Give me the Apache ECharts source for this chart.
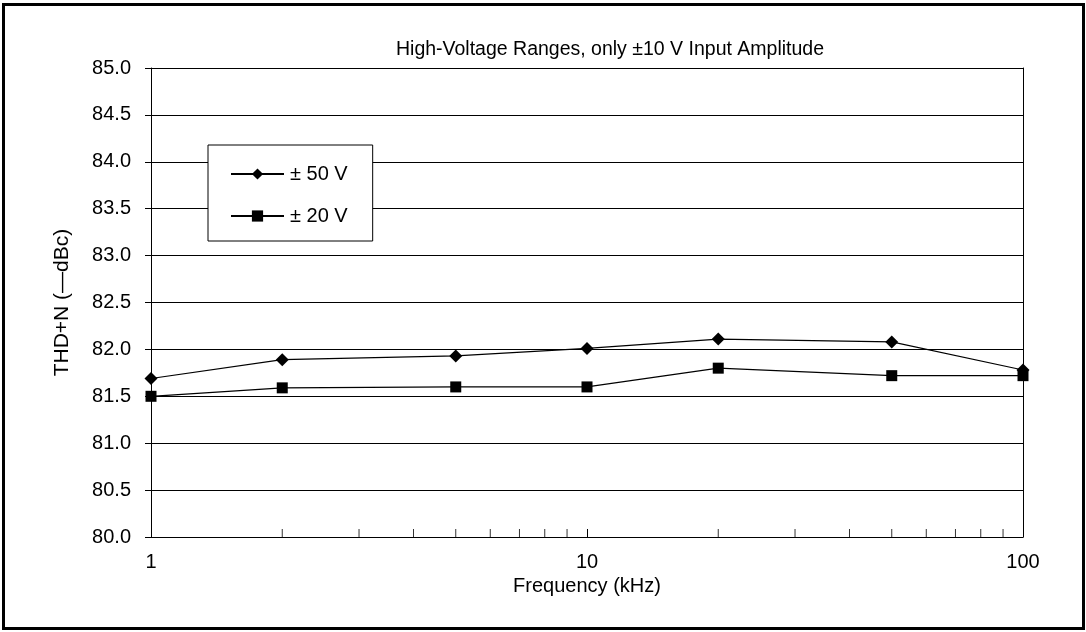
<!DOCTYPE html>
<html>
<head>
<meta charset="utf-8">
<script src="https://cdn.jsdelivr.net/npm/echarts@6/dist/echarts.min.js"></script>
<style>
html,body{margin:0;padding:0;background:#fff;}
#c{width:1086px;height:632px;}
</style>
</head>
<body>
<div id="c"></div>
<script>
var frequencies = [1, 2, 5, 10, 20, 50, 100];
var v50 = [81.69, 81.89, 81.93, 82.01, 82.11, 82.08, 81.78];
var v20 = [81.50, 81.59, 81.60, 81.60, 81.80, 81.72, 81.72];
var minorTickValues = [2, 3, 4, 5, 6, 7, 8, 9, 20, 30, 40, 50, 60, 70, 80, 90];
var seriesNames = ['± 50 V', '± 20 V'];
var titleText = 'High-Voltage Ranges, only ±10 V Input Amplitude';
var yName = 'THD+N (\u2014dBc)';
var xName = 'Frequency (kHz)';

function pairs(xs, ys) { return xs.map(function (x, i) { return [x, ys[i]]; }); }

var font = 'Liberation Sans, Arial, Helvetica, sans-serif';
var chart = echarts.init(document.getElementById('c'), null, {renderer: 'canvas'});
chart.setOption({
  animation: false,
  backgroundColor: '#fff',
  textStyle: {fontFamily: font, color: '#000'},
  title: {
    text: titleText, left: 605, top: 35, textAlign: 'center',
    textStyle: {fontFamily: font, fontSize: 19.5, fontWeight: 'normal', color: '#000'}
  },
  graphic: [{
    type: 'rect', shape: {x: 3.5, y: 4.5, width: 1080, height: 624},
    style: {fill: 'none', stroke: '#000', lineWidth: 3}, silent: true
  }],
  legend: {
    orient: 'vertical', left: 208, top: 145,
    data: seriesNames,
    backgroundColor: '#fff', borderColor: '#000', borderWidth: 1,
    padding: [19, 25, 15, 22], itemGap: 22, itemWidth: 53, itemHeight: 14,
    textStyle: {fontFamily: font, fontSize: 20, color: '#000', padding: [0, 0, 0, 1]}
  },
  grid: {left: 151, right: 63, top: 68, bottom: 95},
  xAxis: {
    type: 'log', logBase: 10, min: 1, max: 100,
    name: xName, nameLocation: 'middle', nameGap: 39,
    nameTextStyle: {fontFamily: font, fontSize: 20, color: '#000'},
    axisLine: {show: true, onZero: false, lineStyle: {color: '#000', width: 1}},
    axisTick: {show: true, inside: true, length: 8, lineStyle: {color: '#000'}},
    axisLabel: {fontFamily: font, fontSize: 20, color: '#000', margin: 15},
    splitLine: {show: false},
    minorTick: {show: false}
  },
  yAxis: [{
    type: 'value', min: 80, max: 85, interval: 0.5,
    name: yName, nameLocation: 'middle', nameGap: 78,
    nameTextStyle: {fontFamily: font, fontSize: 21, color: '#000'},
    axisLine: {show: true, lineStyle: {color: '#000', width: 1}},
    axisTick: {show: true, length: 6, lineStyle: {color: '#000'}},
    axisLabel: {fontFamily: font, fontSize: 20, color: '#000', margin: 20,
      formatter: function (v) { return v.toFixed(1); }},
    splitLine: {show: true, lineStyle: {color: '#000', width: 1}}
  }, {
    type: 'value', min: 80, max: 85, position: 'right',
    axisLine: {show: true, lineStyle: {color: '#000', width: 1}},
    axisTick: {show: false}, axisLabel: {show: false}, splitLine: {show: false}
  }],
  series: [{
    name: seriesNames[0], type: 'line', data: pairs(frequencies, v50),
    symbol: 'diamond', symbolSize: 13, showAllSymbol: true,
    lineStyle: {color: '#000', width: 1.2}, itemStyle: {color: '#000'}, z: 5
  }, {
    name: seriesNames[1], type: 'line', data: pairs(frequencies, v20),
    symbol: 'rect', symbolSize: 11, showAllSymbol: true,
    lineStyle: {color: '#000', width: 1.2}, itemStyle: {color: '#000'}, z: 5
  }, {
    name: 'minorTicks', type: 'scatter',
    data: minorTickValues.map(function (v) { return [v, 80]; }),
    symbol: 'rect', symbolSize: [1, 8], symbolOffset: [0, -4],
    itemStyle: {color: '#000'}, clip: false, silent: true, z: 3
  }]
});
</script>
</body>
</html>
